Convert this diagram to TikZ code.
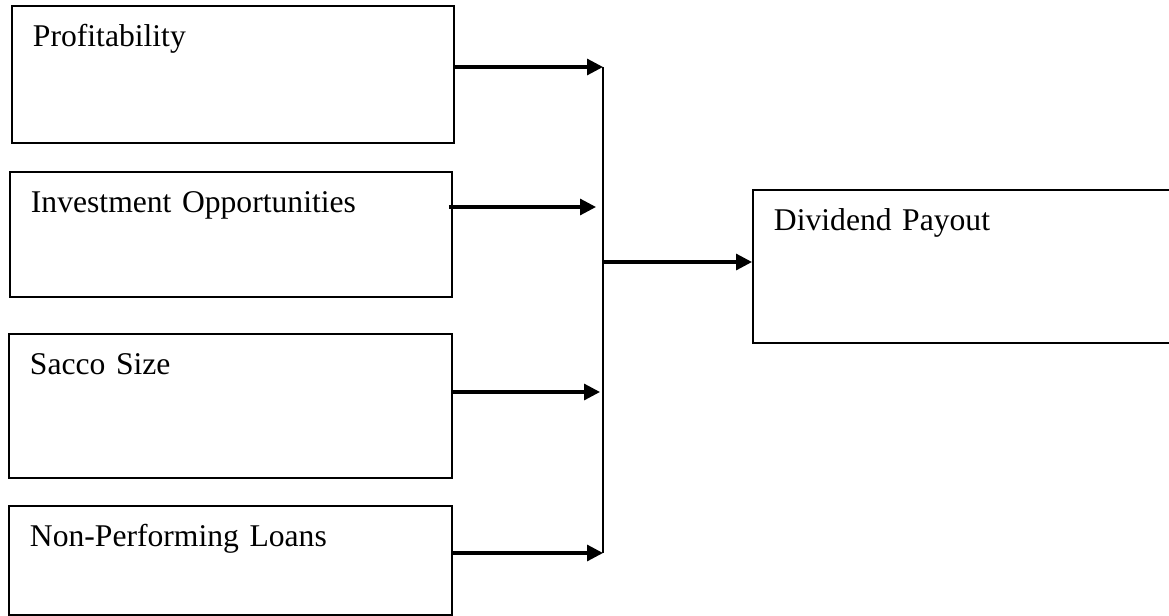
\documentclass[tikz,border=0pt]{standalone}
\usepackage{fontspec}
\setmainfont{Liberation Serif}
\usetikzlibrary{arrows.meta}
\begin{document}
\begin{tikzpicture}[x=0.02cm, y=-0.02cm,
	var/.style={draw=black, line width=1.1pt, anchor=north west, inner xsep=0.42cm, inner ysep=0pt, align=left, text height=0.82cm, font=\fontsize{18}{22}\selectfont},
	link/.style={draw=black, line width=1.8pt, -{Triangle[length=0.32cm,width=0.32cm]}}]
		\useasboundingbox (0,0) rectangle (1169,615);
		\clip (0,0) rectangle (1169,615);
		\node[var, text width=8.00cm, text depth=1.92cm] (prof) at (11,5) {Profitability};
		\node[var, text width=8.00cm, text depth=1.68cm] (invest) at (9,171) {Investment Opportunities};
		\node[var, text width=8.02cm, text depth=2.06cm] (size) at (8,333) {Sacco Size};
		\node[var, text width=8.02cm, text depth=1.36cm] (npl) at (8,505) {Non-Performing Loans};
		\node[var, text width=7.66cm, text depth=2.24cm] (payout) at (752,189) {Dividend Payout};
		\coordinate (j1) at (603,67);
		\coordinate (j2) at (603,207);
		\coordinate (j3) at (603,392);
		\coordinate (j4) at (603,553);
		\coordinate (jm) at (603,262);
		\draw[draw=black, line width=1.2pt] (j1) -- (j4);
		\draw[link] (prof.east |- j1) -- (j1);
		\draw[link] ([xshift=-0.08cm]invest.east |- j2) -- ([xshift=-0.14cm]j2);
		\draw[link] (size.east |- j3) -- ([xshift=-0.06cm]j3);
		\draw[link] (npl.east |- j4) -- (j4);
		\draw[link] (jm) -- (payout.west |- jm);
	\end{tikzpicture}
\end{document}
